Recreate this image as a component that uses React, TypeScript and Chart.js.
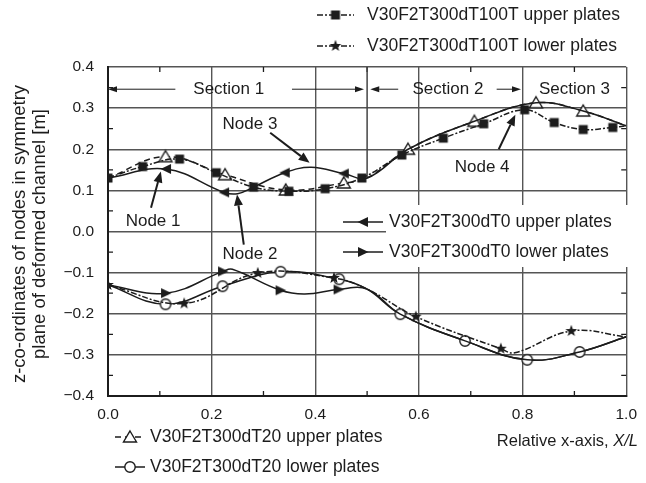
import React, { useEffect, useRef } from "react";
import { Chart, registerables } from "chart.js";
Chart.register(...registerables);

const FONT = '"Liberation Sans", Arial, Helvetica, sans-serif';
const INK = "#1c1c1c";

// ---- axis ticks ----
const xMin = 0, xMax = 1, xStep = 0.2;
const yMin = -0.4, yMax = 0.4, yStep = 0.1;
const xMinorTicks = [0.1, 0.3, 0.5, 0.7, 0.9];
const yMinorTicks = [-0.35, -0.25, -0.15, -0.05, 0.05, 0.15, 0.25, 0.35];

// ---- series data ----
// V30F2T300dT100T upper plates (filled squares)
const t100Upper_x = [0, 0.067, 0.138, 0.209, 0.281, 0.349, 0.419, 0.49, 0.567, 0.647, 0.725, 0.804, 0.861, 0.917, 0.974, 1.0];
const t100Upper_y = [0.13, 0.158, 0.176, 0.143, 0.108, 0.098, 0.104, 0.13, 0.186, 0.227, 0.262, 0.296, 0.265, 0.248, 0.253, 0.257];
// V30F2T300dT100T lower plates (filled stars)
const t100Lower_x = [0, 0.147, 0.289, 0.436, 0.5, 0.594, 0.758, 0.785, 0.894, 1.0];
const t100Lower_y = [-0.13, -0.175, -0.101, -0.113, -0.14, -0.207, -0.285, -0.295, -0.242, -0.256];
// V30F2T300dT0 upper plates (left triangles)
const t0Upper_x = [0, 0.112, 0.224, 0.25, 0.281, 0.341, 0.392, 0.455, 0.5, 0.579, 0.707, 0.826, 0.917, 1.0];
const t0Upper_y = [0.13, 0.152, 0.095, 0.092, 0.108, 0.143, 0.156, 0.141, 0.13, 0.2, 0.268, 0.313, 0.293, 0.257];
// V30F2T300dT0 lower plates (right triangles)
const t0Lower_x = [0, 0.112, 0.222, 0.24, 0.333, 0.38, 0.445, 0.5, 0.564, 0.689, 0.809, 0.91, 1.0];
const t0Lower_y = [-0.13, -0.15, -0.097, -0.092, -0.143, -0.152, -0.141, -0.14, -0.201, -0.266, -0.312, -0.293, -0.256];
// V30F2T300dT20 upper plates (open triangles)
const t20Upper_x = [0, 0.111, 0.226, 0.343, 0.455, 0.5, 0.579, 0.707, 0.826, 0.917, 1.0];
const t20Upper_y = [0.13, 0.182, 0.138, 0.101, 0.118, 0.13, 0.2, 0.268, 0.313, 0.293, 0.257];
// V30F2T300dT20 lower plates (open circles)
const t20Lower_x = [0, 0.111, 0.221, 0.333, 0.446, 0.5, 0.564, 0.689, 0.809, 0.91, 1.0];
const t20Lower_y = [-0.13, -0.177, -0.133, -0.098, -0.116, -0.14, -0.201, -0.266, -0.312, -0.293, -0.256];

// ---- annotations (data coords) ----
const sectionY = 0.346;
const nodeLabels = ["Node 1", "Node 2", "Node 3", "Node 4"];
const nodeTextPos = [[0.087, 0.025], [0.274, -0.056], [0.274, 0.26], [0.722, 0.155]];
const nodeArrowFrom = [[0.083, 0.058], [0.262, -0.032], [0.313, 0.24], [0.754, 0.2]];
const nodeArrowTo = [[0.102, 0.146], [0.249, 0.09], [0.389, 0.167], [0.786, 0.284]];

function makeMarker(kind: string): HTMLCanvasElement {
  const s = 18;
  const c = document.createElement("canvas");
  c.width = s; c.height = s;
  const g = c.getContext("2d")!;
  g.translate(s / 2, s / 2);
  g.fillStyle = INK; g.strokeStyle = INK; g.lineWidth = 1.4;
  g.beginPath();
  if (kind === "square") {
    g.rect(-4.5, -4.5, 9, 9); g.fill();
  } else if (kind === "star") {
    for (let i = 0; i < 10; i++) {
      const r = i % 2 === 0 ? 6.2 : 2.6;
      const a = -Math.PI / 2 + (i * Math.PI) / 5;
      const px = r * Math.cos(a), py = r * Math.sin(a);
      if (i === 0) g.moveTo(px, py); else g.lineTo(px, py);
    }
    g.closePath(); g.fill();
  } else if (kind === "left") {
    g.moveTo(-5.5, 0); g.lineTo(5, -5); g.lineTo(5, 5); g.closePath(); g.fill();
  } else if (kind === "right") {
    g.moveTo(5.5, 0); g.lineTo(-5, -5); g.lineTo(-5, 5); g.closePath(); g.fill();
  } else if (kind === "tri") {
    g.moveTo(0, -6); g.lineTo(6.5, 5); g.lineTo(-6.5, 5); g.closePath();
    g.fillStyle = "#fff"; g.fill(); g.stroke();
  } else if (kind === "circle") {
    g.arc(0, 0, 5.2, 0, Math.PI * 2);
    g.fillStyle = "#fff"; g.fill(); g.stroke();
  }
  return c;
}

function arrow(ctx: CanvasRenderingContext2D, x1: number, y1: number, x2: number, y2: number, hl: number, hw: number, lw: number) {
  const a = Math.atan2(y2 - y1, x2 - x1);
  const bx = x2 - hl * Math.cos(a), by = y2 - hl * Math.sin(a);
  ctx.save();
  ctx.strokeStyle = INK; ctx.fillStyle = INK; ctx.lineWidth = lw; ctx.setLineDash([]);
  ctx.beginPath(); ctx.moveTo(x1, y1); ctx.lineTo(bx, by); ctx.stroke();
  ctx.beginPath();
  ctx.moveTo(x2, y2);
  ctx.lineTo(bx + hw * Math.sin(a), by - hw * Math.cos(a));
  ctx.lineTo(bx - hw * Math.sin(a), by + hw * Math.cos(a));
  ctx.closePath(); ctx.fill();
  ctx.restore();
}

function sample(ctx: CanvasRenderingContext2D, x1: number, x2: number, y: number, dash: number[], m: HTMLCanvasElement) {
  ctx.save();
  ctx.strokeStyle = INK; ctx.lineWidth = 1.5; ctx.setLineDash(dash);
  ctx.beginPath(); ctx.moveTo(x1, y); ctx.lineTo(x2, y); ctx.stroke();
  ctx.setLineDash([]);
  ctx.drawImage(m, (x1 + x2) / 2 - m.width / 2, y - m.height / 2);
  ctx.restore();
}

export default function App() {
  const ref = useRef<HTMLCanvasElement>(null);
  useEffect(() => {
    const canvas = ref.current!;
    const M = {
      square: makeMarker("square"), star: makeMarker("star"), left: makeMarker("left"),
      right: makeMarker("right"), tri: makeMarker("tri"), circle: makeMarker("circle"),
    };
    const DASHDOT = [6, 2, 2, 2];
    const DASH = [6, 4];
    const series = [
      { label: "V30F2T300dT100T upper plates", xs: t100Upper_x, ys: t100Upper_y, m: M.square, dash: DASHDOT, hide: [15] },
      { label: "V30F2T300dT100T lower plates", xs: t100Lower_x, ys: t100Lower_y, m: M.star, dash: DASHDOT, hide: [4, 7, 9] },
      { label: "V30F2T300dT0 upper plates", xs: t0Upper_x, ys: t0Upper_y, m: M.left, dash: [], hide: [0, 3, 4, 6, 8, 9, 10, 11, 12, 13] },
      { label: "V30F2T300dT0 lower plates", xs: t0Lower_x, ys: t0Lower_y, m: M.right, dash: [], hide: [0, 3, 5, 7, 8, 9, 10, 11, 12] },
      { label: "V30F2T300dT20 upper plates", xs: t20Upper_x, ys: t20Upper_y, m: M.tri, dash: DASH, hide: [0, 5, 10] },
      { label: "V30F2T300dT20 lower plates", xs: t20Lower_x, ys: t20Lower_y, m: M.circle, dash: [], hide: [0, 5, 10] },
    ];

    const deco = {
      id: "deco",
      beforeDatasetsDraw(chart: any) {
        const ctx = chart.ctx as CanvasRenderingContext2D;
        const xs = chart.scales.x, ys = chart.scales.y;
        const { left, right, top, bottom } = chart.chartArea;
        ctx.save();
        ctx.strokeStyle = INK; ctx.lineWidth = 1.3;
        ctx.beginPath();
        for (const v of xMinorTicks) {
          const p = xs.getPixelForValue(v);
          ctx.moveTo(p, top); ctx.lineTo(p, top + 5);
          ctx.moveTo(p, bottom); ctx.lineTo(p, bottom - 5);
        }
        for (const v of yMinorTicks) {
          const p = ys.getPixelForValue(v);
          ctx.moveTo(left, p); ctx.lineTo(left + 5, p);
          ctx.moveTo(right, p); ctx.lineTo(right - 5, p);
        }
        ctx.stroke();
        // section divider at x = 0.5
        ctx.strokeStyle = "#444"; ctx.lineWidth = 1.5;
        ctx.beginPath();
        const p5 = xs.getPixelForValue(0.5);
        ctx.moveTo(p5, top); ctx.lineTo(p5, ys.getPixelForValue(0.13));
        ctx.stroke();
        ctx.restore();
      },
      afterDraw(chart: any) {
        const ctx = chart.ctx as CanvasRenderingContext2D;
        const xs = chart.scales.x, ys = chart.scales.y;
        const X = (v: number) => xs.getPixelForValue(v);
        const Y = (v: number) => ys.getPixelForValue(v);
        ctx.save();
        ctx.fillStyle = INK;
        ctx.font = `17px ${FONT}`;
        ctx.textBaseline = "middle";
        ctx.textAlign = "center";
        // sections
        const sy = Y(sectionY);
        ctx.fillText("Section 1", X(0.233), sy);
        ctx.fillText("Section 2", X(0.656), sy);
        ctx.fillText("Section 3", X(0.9), sy);
        arrow(ctx, X(0.13), sy, X(0), sy, 9, 3, 1);
        arrow(ctx, X(0.355), sy, X(0.494), sy, 9, 3, 1);
        arrow(ctx, X(0.56), sy, X(0.506), sy, 9, 3, 1);
        arrow(ctx, X(0.75), sy, X(0.797), sy, 9, 3, 1);
        // nodes
        for (let i = 0; i < nodeLabels.length; i++) {
          ctx.fillStyle = INK;
          ctx.fillText(nodeLabels[i], X(nodeTextPos[i][0]), Y(nodeTextPos[i][1]));
          arrow(ctx, X(nodeArrowFrom[i][0]), Y(nodeArrowFrom[i][1]), X(nodeArrowTo[i][0]), Y(nodeArrowTo[i][1]), 11, 4.5, 2);
        }
        // middle legend (dT0) with white box
        ctx.fillStyle = "#fff";
        ctx.fillRect(386, 205, 260, 62);
        ctx.textAlign = "left";
        ctx.font = `17.5px ${FONT}`;
        const legendRow = (s: any, x1: number, x2: number, tx: number, y: number) => {
          sample(ctx, x1, x2, y, s.dash, s.m);
          ctx.fillStyle = INK;
          ctx.fillText(s.label, tx, y);
        };
        legendRow(series[2], 343, 383, 389, 222);
        legendRow(series[3], 343, 383, 389, 252);
        // top legend
        legendRow(series[0], 317, 354, 367, 15);
        legendRow(series[1], 317, 354, 367, 46);
        // bottom legend
        legendRow(series[4], 115, 145, 150, 437);
        legendRow(series[5], 115, 145, 150, 467);
        // x axis title
        ctx.textAlign = "right";
        ctx.font = `italic 16.5px ${FONT}`;
        const xl = "X/L";
        const wxl = ctx.measureText(xl).width;
        ctx.fillText(xl, 638, 441);
        ctx.font = `16.5px ${FONT}`;
        ctx.fillText("Relative x-axis, ", 638 - wxl, 441);
        // y axis title
        ctx.font = `18.5px ${FONT}`;
        ctx.textAlign = "center";
        ctx.translate(20, 234);
        ctx.rotate(-Math.PI / 2);
        ctx.fillText("z-co-ordinates of nodes in symmetry", 0, 0);
        ctx.fillText("plane of deformed channel [m]", 0, 20);
        ctx.restore();
      },
    };

    const chart = new Chart(canvas, {
      type: "line",
      data: {
        datasets: series.map((s) => ({
          label: s.label,
          data: s.xs.map((x, i) => ({ x, y: s.ys[i] })),
          borderColor: INK,
          backgroundColor: INK,
          borderWidth: 1.5,
          borderDash: s.dash,
          tension: 0.4,
          fill: false,
          pointStyle: s.m,
          pointRadius: (c: any) => (s.hide.includes(c.dataIndex) ? 0 : 5),
          pointHoverRadius: 0,
        })),
      },
      options: {
        responsive: false,
        animation: false,
        events: [],
        layout: { padding: { left: 48, right: 14, top: 67, bottom: 47 } },
        plugins: { legend: { display: false }, tooltip: { enabled: false } },
        scales: {
          x: {
            type: "linear", min: xMin, max: xMax,
            afterFit: (sc: any) => { sc.height = 40; },
            ticks: {
              stepSize: xStep, padding: 9, color: INK,
              font: { family: FONT, size: 15.5 },
              callback: (v: any) => Number(v).toFixed(1),
            },
            grid: { color: "#555", lineWidth: 1.4, drawTicks: false },
            border: { color: INK, width: 2 },
          },
          y: {
            type: "linear", min: yMin, max: yMax,
            afterFit: (sc: any) => { sc.width = 60; },
            ticks: {
              stepSize: yStep, padding: 14, color: INK,
              font: { family: FONT, size: 15.5 },
              callback: (v: any) => {
                const n = Math.round(Number(v) * 10) / 10;
                return (n < 0 ? "\u2212" : "") + Math.abs(n).toFixed(1);
              },
            },
            grid: { color: "#555", lineWidth: 1.4, drawTicks: false },
            border: { color: INK, width: 2 },
          },
        } as any,
      },
      plugins: [deco],
    } as any);
    return () => chart.destroy();
  }, []);
  return (
    <div style={{ position: "absolute", left: 0, top: 0, width: 646, height: 483, background: "#fff" }}>
      <canvas ref={ref} width={646} height={483} style={{ display: "block", width: 646, height: 483 }} />
    </div>
  );
}
